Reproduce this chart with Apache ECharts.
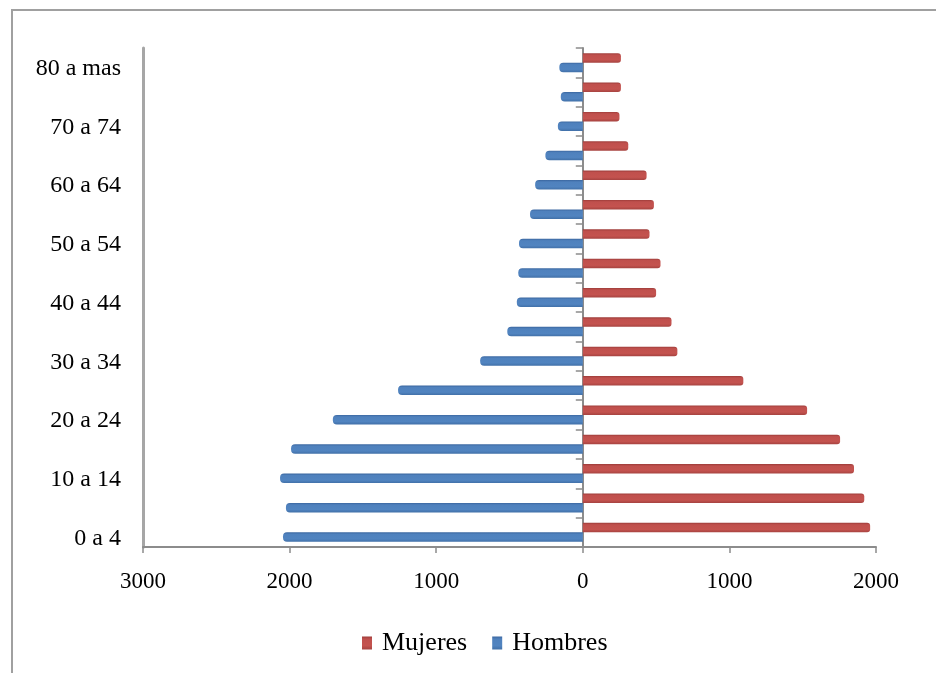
<!DOCTYPE html>
<html>
<head>
<meta charset="utf-8">
<script src="https://cdn.jsdelivr.net/npm/echarts@6/dist/echarts.min.js"></script>
<style>
html,body{margin:0;padding:0;background:#fff;overflow:hidden;width:936px;height:673px;}
#frame{position:absolute;left:11px;top:9px;width:1000px;height:800px;border:2px solid #a0a0a0;box-sizing:border-box;}
#chart{position:absolute;left:0;top:0;width:936px;height:673px;}
</style>
</head>
<body>
<div id="frame"></div>
<div id="chart"></div>
<script>
const categories = ['0 a 4','5 a 9','10 a 14','15 a 19','20 a 24','25 a 29','30 a 34','35 a 39','40 a 44','45 a 49','50 a 54','55 a 59','60 a 64','65 a 69','70 a 74','75 a 79','80 a mas'];
const hombres = [2045, 2025, 2065, 1990, 1705, 1260, 700, 515, 450, 440, 435, 360, 325, 255, 170, 150, 160];
const mujeres = [1960, 1920, 1850, 1755, 1530, 1095, 645, 605, 500, 530, 455, 485, 435, 310, 250, 260, 260];
const xTicks = { min: -3000, max: 2000, interval: 1000 };

const FONT = '"Liberation Serif", "Times New Roman", serif';
const chart = echarts.init(document.getElementById('chart'), null, { renderer: 'canvas' });

const redGrad = new echarts.graphic.LinearGradient(0, 0, 0, 1, [
  { offset: 0, color: '#9e3d3a' }, { offset: 0.2, color: '#c0504d' },
  { offset: 0.7, color: '#c4534f' }, { offset: 1, color: '#a64340' }]);
const blueGrad = new echarts.graphic.LinearGradient(0, 0, 0, 1, [
  { offset: 0, color: '#3b67a0' }, { offset: 0.2, color: '#4f81bd' },
  { offset: 0.7, color: '#5184c0' }, { offset: 1, color: '#4170a8' }]);

chart.setOption({
  animation: false,
  grid: { left: 143, right: 60, top: 48, height: 499, containLabel: false },
  legend: {
    data: ['Mujeres', 'Hombres'],
    left: 362, top: 630, padding: 0,
    icon: 'rect', itemWidth: 10, itemHeight: 13, itemGap: 25,
    textStyle: { fontFamily: FONT, fontSize: 26, color: '#000', padding: [0, 0, 0, 5] }
  },
  xAxis: {
    type: 'value', min: xTicks.min, max: xTicks.max, interval: xTicks.interval,
    axisLine: { show: true, onZero: false, lineStyle: { color: '#8c8c8c', width: 2 } },
    axisTick: { show: true, length: 6, lineStyle: { color: '#8c8c8c', width: 1.5 } },
    splitLine: { show: false },
    axisLabel: { margin: 23, fontFamily: FONT, fontSize: 23, color: '#000',
      formatter: v => String(Math.abs(v)) }
  },
  yAxis: [
    {
      type: 'category', data: categories,
      axisLine: { show: true, onZero: true, lineStyle: { color: '#8c8c8c', width: 2 } },
      axisTick: { show: true, length: 7, lineStyle: { color: '#8c8c8c', width: 1.5 } },
      axisLabel: { show: false }
    },
    {
      type: 'category', data: categories, position: 'left',
      axisLine: { show: true, onZero: false, lineStyle: { color: '#a6a6a6', width: 3 } },
      axisTick: { show: false },
      axisLabel: { show: true, interval: 1, margin: 22, fontFamily: FONT, fontSize: 24, color: '#000',
        verticalAlign: 'top', lineHeight: 12 }
    }
  ],
  series: [
    {
      name: 'Mujeres', type: 'bar', yAxisIndex: 0,
      data: mujeres,
      barWidth: 9.5, barGap: '0%',
      itemStyle: { color: redGrad, borderRadius: [0, 3, 3, 0] }
    },
    {
      name: 'Hombres', type: 'bar', yAxisIndex: 0,
      data: hombres.map(v => -v),
      barWidth: 9.5, barGap: '0%',
      itemStyle: { color: blueGrad, borderRadius: [4, 0, 0, 4] }
    }
  ]
});
</script>
</body>
</html>
